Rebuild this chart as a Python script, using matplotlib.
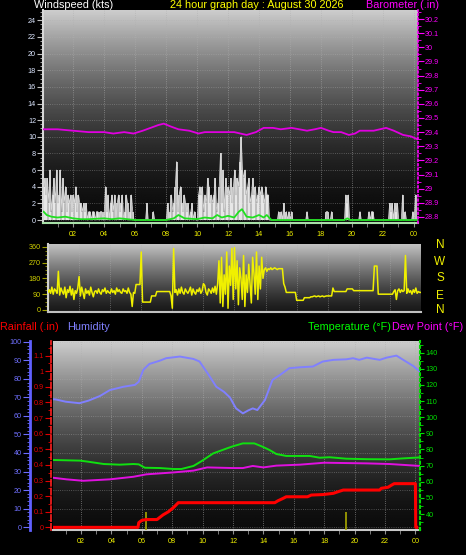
import numpy as np
import matplotlib.pyplot as plt
from matplotlib.ticker import MultipleLocator, FixedLocator, FuncFormatter

plt.rcParams['font.family'] = ['Liberation Sans', 'DejaVu Sans']

# wind speed samples, one every 5 minutes from 00:06 (kts)
wind_speed = (
    [4, 5, 3, 5, 2, 6, 1, 3, 5, 2, 6, 2]
    + [3, 6, 1, 5, 2, 4, 1, 3, 2, 3, 1, 3]
    + [2, 4, 1, 3, 2, 2, 1, 2, 1, 2, 0, 1]
    + [1, 0, 1, 1, 0, 1, 1, 0, 1, 1, 0, 1]
    + [4, 1, 3, 0, 2, 3, 1, 3, 0, 2, 3, 1]
    + [2, 3, 0, 1, 3, 2, 0, 1, 3, 1, 0, 0]
    + [0, 0, 0, 0, 0, 0, 0, 0, 2, 0, 0, 0]
    + [0, 1, 0, 0, 0, 0, 0, 0, 0, 0, 0, 0]
    + [2, 0, 1, 3, 1, 2, 4, 7, 1, 3, 4, 2]
    + [1, 3, 2, 1, 2, 0, 1, 2, 0, 1, 0, 0]
    + [3, 4, 3, 4, 1, 3, 2, 5, 4, 2, 3, 2]
    + [3, 5, 1, 2, 4, 8, 2, 6, 1, 5, 3, 4]
    + [3, 5, 2, 4, 6, 3, 5, 4, 7, 10, 6, 5]
    + [6, 3, 4, 5, 2, 3, 5, 3, 4, 2, 3, 4]
    + [3, 4, 3, 2, 4, 3, 3, 0, 0, 0, 0, 0]
    + [0, 0, 1, 0, 1, 0, 2, 0, 1, 0, 1, 0]
    + [1, 0, 0, 0, 0, 0, 0, 0, 0, 0, 0, 0]
    + [1, 0, 0, 0, 0, 0, 0, 0, 0, 0, 0, 0]
    + [0, 0, 0, 1, 1, 0, 0, 1, 0, 0, 0, 0]
    + [0, 0, 0, 0, 0, 0, 3, 2, 3, 0, 0, 0]
    + [0, 0, 0, 0, 0, 1, 0, 0, 0, 0, 0, 0]
    + [1, 0, 1, 1, 0, 0, 0, 0, 0, 0, 0, 0]
    + [0, 0, 0, 0, 2, 1, 2, 0, 2, 1, 2, 0]
    + [0, 0, 3, 0, 1, 0, 0, 0, 0, 0, 1, 0]
    + [3]
)
wind_hours = [0.1 + i / 12 for i in range(len(wind_speed))]

avg_hours = [0.1, 0.3, 0.6, 1.0, 1.5, 2.0, 2.5, 3.0, 4.0, 4.5, 5.0, 6.0, 8.0, 8.5, 8.8, 9.2, 10.0,
             10.5, 11.0, 11.3, 11.6, 12.0, 12.4, 12.7, 12.9, 13.2, 13.6, 14.0, 14.3, 14.5, 14.8,
             19.5, 19.7, 19.9, 24.2]
wind_avg = [1.0, 0.6, 0.4, 0.3, 0.4, 0.2, 0.1, 0.1, 0.2, 0.1, 0.2, 0.0, 0.0, 0.2, 0.6, 0.2, 0.1,
            0.3, 0.2, 0.6, 0.3, 0.5, 0.3, 1.0, 1.3, 0.4, 0.3, 0.6, 0.3, 0.6, 0.0,
            0.0, 0.2, 0.0, 0.0]

baro_hours = [0.1, 1.0, 2.0, 3.0, 4.0, 4.6, 5.3, 5.9, 6.5, 7.0, 7.5, 7.85, 8.3, 8.8, 9.5, 10.1, 10.5,
              11.2, 12.0, 12.4, 13.2, 13.8, 14.3, 14.9, 15.4, 16.1, 16.6, 17.1, 17.6, 18.0, 18.5,
              18.8, 19.3, 19.8, 20.2, 20.5, 21.0, 21.4, 21.8, 22.2, 22.7, 23.3, 23.8, 24.2]
baro = [29.42, 29.42, 29.41, 29.40, 29.40, 29.39, 29.40, 29.39, 29.41, 29.43, 29.45, 29.46, 29.44,
        29.42, 29.41, 29.39, 29.40, 29.40, 29.40, 29.40, 29.38, 29.40, 29.43, 29.43, 29.42, 29.43,
        29.42, 29.41, 29.42, 29.43, 29.41, 29.40, 29.40, 29.38, 29.39, 29.41, 29.41, 29.41, 29.42,
        29.43, 29.41, 29.38, 29.37, 29.35]

# wind direction, one every 5 minutes from 00:00 (degrees)
wind_dir = (
    [100, 115, 95, 130, 90, 120, 110, 95, 220, 85, 125, 105]
    + [90, 130, 70, 115, 100, 135, 85, 120, 60, 110, 95, 125]
    + [190, 80, 130, 100, 65, 120, 95, 110, 85, 130, 100, 75]
    + [105, 110, 95, 120, 100, 90, 115, 105, 125, 95, 110, 100]
    + [95, 120, 100, 110, 90, 125, 105, 115, 100, 95, 120, 105]
    + [110, 95, 125, 100, 90, 20, 100, 95, 145, 145, 145, 145]
    + [330, 45, 45, 45, 45, 45, 45, 45, 80, 80, 80, 80]
    + [105, 105, 105, 105, 105, 105, 105, 105, 105, 105, 105, 80]
    + [10, 350, 100, 115, 85, 120, 95, 130, 100, 90, 120, 105]
    + [95, 110, 130, 85, 120, 100, 90, 115, 105, 125, 95, 110]
    + [150, 140, 100, 85, 120, 110, 95, 125, 100, 135, 90, 150]
    + [280, 40, 300, 20, 200, 90, 330, 10, 250, 140, 350, 60]
    + [355, 120, 280, 30, 240, 180, 60, 310, 20, 200, 100, 260]
    + [150, 40, 300, 210, 90, 330, 60, 250, 120, 300, 180, 230]
    + [240, 220, 235, 230, 240, 230, 235, 240, 235, 230, 235, 235]
    + [235, 235, 150, 130, 100, 100, 100, 100, 100, 100, 100, 100]
    + [55, 55, 55, 55, 55, 55, 70, 70, 70, 70, 70, 75]
    + [75, 78, 80, 75, 78, 80, 75, 78, 80, 75, 78, 80]
    + [80, 80, 80, 80, 125, 105, 105, 105, 105, 105, 105, 105]
    + [105, 105, 105, 120, 120, 120, 120, 120, 110, 110, 110, 110]
    + [110, 110, 110, 110, 110, 110, 110, 110, 110, 110, 110, 110]
    + [250, 250, 250, 90, 90, 90, 90, 90, 90, 90, 90, 90]
    + [90, 90, 90, 105, 115, 60, 110, 120, 100, 115, 105, 110]
    + [310, 95, 120, 100, 110, 90, 115, 100, 125, 95, 105, 100]
    + [100]
)
dir_hours = [i / 12 for i in range(len(wind_dir))]

hum_hours = [0.16, 0.3, 1.0, 1.9, 2.5, 3.25, 3.9, 4.8, 5.55, 5.8, 6.1, 6.5, 7.2, 7.6, 8.5, 9.4, 9.8,
             10.4, 10.9, 11.4, 11.8, 12.0, 12.2, 12.65, 13.0, 13.3, 13.6, 14.1, 14.6, 15.1, 15.7,
             16.4, 17.25, 17.9, 18.6, 19.45, 19.9, 20.3, 20.8, 21.65, 22.1, 22.75, 23.2, 23.85, 24.3]
humidity = [69, 69, 67.7, 66.9, 68.3, 70.8, 74, 75.8, 76.8, 78.5, 84.9, 88.1, 89.9, 91.2, 92.1, 90.8,
            89.4, 82.2, 75.8, 73.1, 70, 67, 64.1, 61.4, 63, 64.1, 63.2, 68.6, 79.5, 82.2, 85.8, 86.3,
            86.7, 89.4, 90.3, 90.6, 91.2, 90.3, 91.5, 90.3, 91.5, 92.6, 90.3, 87, 84]

temp_hours = [0.16, 1.95, 2.5, 3.5, 4.55, 5.45, 5.8, 6.2, 7.2, 8.1, 8.6, 9.4, 9.95, 10.7, 11.6, 12.0,
              12.65, 13.4, 13.95, 14.4, 14.85, 15.5, 17.05, 17.7, 18.35, 19.45, 20.8, 22.3, 23.2, 24.3]
temperature = [73.5, 73.1, 72.4, 71, 70.6, 71, 70.8, 68.7, 68.5, 67.9, 67.9, 69.8, 72.9, 77.6, 80.7,
               82, 83.8, 83.8, 81.7, 79.7, 77.2, 76, 76, 74.9, 75.2, 74.3, 74, 73.9, 74.5, 75.1]

dew_hours = [0.16, 1.05, 2.15, 3.9, 5.45, 6.3, 8.1, 9.4, 10.3, 12.0, 12.65, 13.3, 14.0, 14.85, 16.4,
             18.0, 20.8, 22.3, 24.3]
dewpoint = [62.5, 61.5, 60.6, 61.5, 63.1, 64.6, 65.8, 66.9, 68.9, 68.5, 68.5, 69.8, 68.9, 70, 70.6,
            71.8, 71.4, 71, 69.8]

rain_hours = [0.16, 5.75, 5.8, 6.0, 6.3, 7.0, 7.4, 7.75, 8.1, 8.4, 14.75, 14.95, 15.3, 15.5, 16.9,
              17.15, 17.9, 18.6, 18.9, 19.25, 21.65, 21.75, 22.2, 22.4, 22.6, 24.0, 24.02, 24.08]
rainfall = [0, 0, 0.03, 0.045, 0.05, 0.05, 0.08, 0.1, 0.128, 0.158, 0.158, 0.17, 0.186, 0.196, 0.196,
            0.207, 0.21, 0.218, 0.228, 0.239, 0.239, 0.25, 0.257, 0.269, 0.28, 0.28, 0, 0]

rate_hours = [6.3, 19.45]
rain_rate = [0.1, 0.1]

hour_ticks = list(range(2, 25, 2))
hour_labels = ['%02d' % (h % 24) for h in hour_ticks]

W, H = 466, 555


def box(l, t, r, b):
    return [l / W, 1 - b / H, (r - l) / W, (b - t) / H]


def shade(ax, top, bottom, gamma):
    t = np.linspace(1, 0, 256) ** gamma
    g = (bottom + (top - bottom) * t) / 255
    img = np.repeat(g[:, None], 2, axis=1)
    ax.imshow(img, cmap='gray', vmin=0, vmax=1, extent=[0, 1, 0, 1], transform=ax.transAxes,
              aspect='auto', zorder=0, interpolation='bilinear')


def num(v, pos):
    return '%g' % round(v, 2)


def hours_axis(ax, labels=True):
    ax.xaxis.set_major_locator(FixedLocator(hour_ticks))
    ax.xaxis.set_minor_locator(MultipleLocator(1))
    ax.set_xticklabels(hour_labels if labels else [])
    ax.tick_params(axis='x', which='both', colors='#909090', labelcolor='#f0f000', labelsize=5.2,
                   length=3, pad=3)
    ax.grid(axis='x', which='major', color='#b0b0b0', ls=':', lw=0.6, alpha=0.7)


fig = plt.figure(figsize=(4.66, 5.55), dpi=100, facecolor='black')

# ---- wind speed / barometer
ax_w = fig.add_axes(box(43, 10, 418, 223))
shade(ax_w, 205, 12, 1.8)
ax_w.vlines(wind_hours, 0, wind_speed, color='#f4f4f4', lw=1.1, zorder=2)
ax_w.plot(wind_hours, wind_speed, color='#d8d8d8', lw=0.6, zorder=2)
ax_w.plot(avg_hours, wind_avg, color='#20e020', lw=1.3, zorder=3)
ax_w.set_xlim(0.06, 24.26)
ax_w.set_ylim(-0.36, 25.24)
hours_axis(ax_w)
ax_w.yaxis.set_major_locator(MultipleLocator(2))
ax_w.yaxis.set_minor_locator(MultipleLocator(0.5))
ax_w.tick_params(axis='y', which='both', colors='#c0c0c0', labelcolor='#dce6ff', labelsize=5.2,
                 length=4, pad=1)
ax_w.tick_params(axis='y', which='minor', length=2)
ax_w.grid(axis='y', which='major', color='#b0b0b0', ls=':', lw=0.6, alpha=0.5)
for s in ['top', 'right']:
    ax_w.spines[s].set_visible(False)
ax_w.spines['left'].set_color('#d8d8d8')
ax_w.spines['left'].set_linewidth(1.5)
ax_w.spines['bottom'].set_color('#a8e0a8')
ax_w.spines['bottom'].set_linewidth(1.5)

ax_p = ax_w.twinx()
ax_p.plot(baro_hours, baro, color='#e000e0', lw=1.3)
ax_p.set_ylim(28.757, 30.264)
ax_p.yaxis.set_major_locator(MultipleLocator(0.1))
ax_p.yaxis.set_minor_locator(MultipleLocator(0.05))
ax_p.yaxis.set_major_formatter(FuncFormatter(num))
ax_p.tick_params(axis='y', which='both', colors='#ff00ff', labelcolor='#ff00ff', labelsize=5.2,
                 length=4, pad=1)
ax_p.tick_params(axis='y', which='minor', length=2)
for s in ['top', 'left', 'bottom']:
    ax_p.spines[s].set_visible(False)
ax_p.spines['right'].set_color('#ff00ff')
ax_p.spines['right'].set_linestyle(':')
ax_p.spines['right'].set_linewidth(1.2)

fig.text(34 / W, 1 - 5.5 / H, 'Windspeed (kts)', color='white', fontsize=7.8, va='center')
fig.text(257 / W, 1 - 5.5 / H, '24 hour graph day : August 30 2026', color='#ffff00', fontsize=7.8,
         va='center', ha='center')
fig.text(439 / W, 1 - 5.5 / H, 'Barometer (.in)', color='#ff00ff', fontsize=7.8, va='center',
         ha='right')

# ---- wind direction
ax_d = fig.add_axes(box(48, 244, 421, 312))
shade(ax_d, 195, 25, 1.3)
ax_d.plot(dir_hours, wind_dir, color='#f0f000', lw=1.1, zorder=3)
ax_d.set_xlim(0, 24)
ax_d.set_ylim(-11.4, 375.4)
ax_d.xaxis.set_major_locator(FixedLocator(hour_ticks))
ax_d.tick_params(axis='x', length=0, labelbottom=False)
ax_d.grid(axis='x', color='#b0b0b0', ls=':', lw=0.6, alpha=0.6)
ax_d.yaxis.set_major_locator(MultipleLocator(90))
ax_d.yaxis.set_minor_locator(MultipleLocator(22.5))
ax_d.tick_params(axis='y', which='both', colors='#a0a000', labelcolor='#d0d000', labelsize=5.2,
                 length=4, pad=1)
ax_d.tick_params(axis='y', which='minor', length=2)
for s in ['top', 'right']:
    ax_d.spines[s].set_visible(False)
ax_d.spines['left'].set_color('#d0d0d0')
ax_d.spines['left'].set_linewidth(1.5)
ax_d.spines['bottom'].set_color('#c0c0c0')
ax_d.spines['bottom'].set_linewidth(1.5)
for lab, deg in zip(['N', 'W', 'S', 'E', 'N'], [370, 275, 182, 81, -2]):
    ax_d.text((440 - 48) / 373, deg, lab, color='#f0f000', fontsize=8.5, ha='center', va='center',
              transform=ax_d.get_yaxis_transform(), clip_on=False)

# ---- humidity / rainfall / temperature
ax_h = fig.add_axes(box(53, 341, 420, 530))
shade(ax_h, 205, 12, 1.6)
ax_h.plot(hum_hours, humidity, color='#8080ff', lw=1.4, zorder=3)
ax_h.set_xlim(0.16, 24.3)
ax_h.set_ylim(-1.6, 100.5)
hours_axis(ax_h)
ax_h.yaxis.set_major_locator(MultipleLocator(10))
ax_h.yaxis.set_minor_locator(MultipleLocator(2))
ax_h.tick_params(axis='y', which='both', colors='#6c6cff', labelcolor='#7070ff', labelsize=5.2,
                 length=5, pad=1)
ax_h.tick_params(axis='y', which='minor', length=2.5)
ax_h.grid(axis='y', which='major', color='#b0b0b0', ls=':', lw=0.6, alpha=0.5)
ax_h.spines['left'].set_position(('outward', 16.6))
ax_h.spines['left'].set_color('#6060ff')
ax_h.spines['left'].set_linewidth(2)
for s in ['top', 'right']:
    ax_h.spines[s].set_visible(False)
ax_h.spines['bottom'].set_color('#c8c8c8')
ax_h.spines['bottom'].set_linewidth(1.5)

ax_t = ax_h.twinx()
ax_t.plot(temp_hours, temperature, color='#10e010', lw=1.4)
ax_t.plot(dew_hours, dewpoint, color='#e010e0', lw=1.4)
ax_t.set_ylim(30.1, 147.25)
ax_t.yaxis.set_major_locator(FixedLocator(list(range(40, 141, 10))))
ax_t.yaxis.set_minor_locator(FixedLocator(list(range(35, 146, 5))))
ax_t.tick_params(axis='y', which='both', colors='#00e000', labelcolor='#00e000', labelsize=5.2,
                 length=3, pad=1)
ax_t.tick_params(axis='y', which='minor', length=2)
for s in ['top', 'left', 'bottom']:
    ax_t.spines[s].set_visible(False)
ax_t.spines['right'].set_color('#00e000')
ax_t.spines['right'].set_linestyle(':')
ax_t.spines['right'].set_linewidth(1.5)

ax_r = ax_h.twinx()
ax_r.vlines(rate_hours, -0.02, rain_rate, color='#a8a800', lw=1.2)
ax_r.plot(rain_hours, rainfall, color='#ff0000', lw=2.2)
ax_r.set_ylim(-0.017, 1.194)
ax_r.yaxis.tick_left()
ax_r.yaxis.set_major_locator(MultipleLocator(0.1))
ax_r.yaxis.set_minor_locator(MultipleLocator(0.05))
ax_r.yaxis.set_major_formatter(FuncFormatter(num))
ax_r.tick_params(axis='y', which='both', colors='#e00000', labelcolor='#e00000', labelsize=5.2,
                 length=4, pad=1)
ax_r.tick_params(axis='y', which='minor', length=2)
for s in ['top', 'right', 'bottom']:
    ax_r.spines[s].set_visible(False)
ax_r.spines['left'].set_visible(True)
ax_r.spines['left'].set_position(('outward', 1.5))
ax_r.spines['left'].set_color('#ff2020')
ax_r.spines['left'].set_linestyle('--')
ax_r.spines['left'].set_linewidth(1.2)

fig.text(0 / W, 1 - 327 / H, 'Rainfall (.in)', color='#ff0000', fontsize=7.8, va='center')
fig.text(67 / W, 1 - 327 / H, 'Humidity', color='#8080ff', fontsize=7.8, va='center')
fig.text(391 / W, 1 - 327 / H, 'Temperature (°F)', color='#00ff00', fontsize=7.8, va='center',
         ha='right')
fig.text(463 / W, 1 - 327 / H, 'Dew Point (°F)', color='#ff00ff', fontsize=7.8, va='center',
         ha='right')

fig.savefig('out.png', dpi=100, facecolor='black')
